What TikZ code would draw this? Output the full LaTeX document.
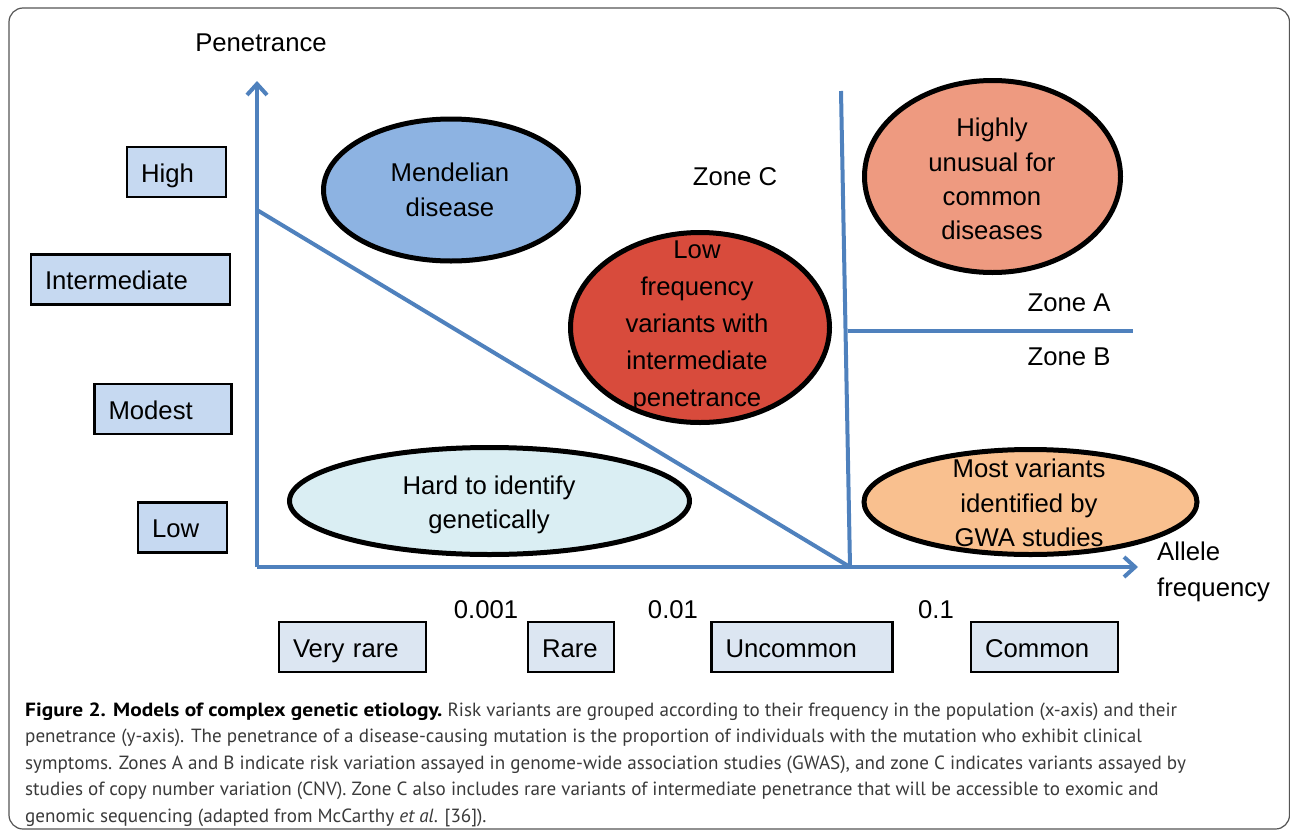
\documentclass[tikz,border=0pt]{standalone}
\usepackage{fontspec}
\setmainfont{Liberation Sans}
\newfontfamily\capfont{PT Sans}
\usetikzlibrary{shapes.geometric,arrows.meta}
\definecolor{axisblue}{HTML}{4F81BD}
\definecolor{yboxfill}{HTML}{C6D9F1}
\definecolor{xboxfill}{HTML}{DCE6F2}
\definecolor{mendfill}{HTML}{8DB3E2}
\definecolor{redfill}{HTML}{D84B3C}
\definecolor{highfill}{HTML}{EE9A80}
\definecolor{hardfill}{HTML}{DAEEF3}
\definecolor{gwafill}{HTML}{F9C08F}
\definecolor{captext}{HTML}{3A3A3A}
\definecolor{framegray}{HTML}{555555}
\begin{document}
\begin{tikzpicture}[x=1pt,y=-1pt,
  lbl/.style={font=\fontsize{25.7pt}{35pt}\selectfont, inner sep=0pt, align=center},
  ell/.style={ellipse, draw=black, line width=5pt, inner sep=0pt},
  boxnode/.style={rectangle, draw=black, line width=2.5pt, inner xsep=14pt, inner ysep=0pt,
     minimum height=50pt, align=left, text height=20.4pt, text depth=0pt,
     font=\fontsize{25.7pt}{30pt}\selectfont},
  axisline/.style={draw=axisblue, line width=4pt},
  axisarrow/.style={axisline, -{Straight Barb[length=11pt,width=20pt,line width=4pt]}},
  capline/.style={anchor=base west, inner sep=0pt, font=\capfont\fontsize{19.1pt}{26pt}\selectfont, text=captext}
]
\useasboundingbox (0,0) rectangle (1290,835);
% frame
\draw[framegray, line width=1.2pt, rounded corners=14pt] (9,8) rectangle (1289.5,829);

% ellipses (drawn first, behind lines)
\node[ell, fill=mendfill, minimum width=255pt, minimum height=142pt] (mend) at (451,190) {};
\node[ell, fill=redfill, minimum width=259pt, minimum height=190pt] (lowf) at (700,327.5) {};
\node[ell, fill=highfill, minimum width=256pt, minimum height=192pt] (hiun) at (992.5,176.5) {};
\node[ell, fill=hardfill, minimum width=400pt, minimum height=107pt] (hard) at (489.5,501) {};
\node[ell, fill=gwafill, minimum width=333pt, minimum height=105pt] (gwa) at (1030.5,502) {};

% axes and zone lines
\coordinate (O) at (257,567);
\coordinate (ytop) at (257,81);
\coordinate (xend) at (1138,567);
\coordinate (dstart) at (257,210);
\coordinate (vbot) at (850,567);
\coordinate (vtop) at (841,91);
\coordinate (zA) at (848,331);
\coordinate (zB) at (1133,331);
\draw[axisarrow] (O) -- (ytop);
\draw[axisarrow] (O) -- (xend);
\draw[axisline] (dstart) -- (vbot);
\draw[axisline] (vbot) -- (vtop);
\draw[axisline] (zA) -- (zB);

% ellipse texts
\node[lbl] (mendt) at (450,190) {Mendelian\\disease};
\node[lbl, font=\fontsize{25.7pt}{37pt}\selectfont] (lowft) at (697,326) {Low\\frequency\\variants with\\intermediate\\penetrance};
\node[lbl, font=\fontsize{25.7pt}{34.3pt}\selectfont] (hiunt) at (992,179) {Highly\\unusual for\\common\\diseases};
\node[lbl, font=\fontsize{25.7pt}{34pt}\selectfont] (hardt) at (489,505) {Hard to identify\\genetically};
\node[lbl, font=\fontsize{25.7pt}{34.5pt}\selectfont] (gwat) at (1029,503) {Most variants\\identified by\\GWA studies};

% labels
\node[lbl] (pen) at (261,43) {Penetrance};
\node[lbl] (zc) at (735,177) {Zone C};
\node[lbl] (za) at (1069,303) {Zone A};
\node[lbl] (zb) at (1069,357) {Zone B};
\node[lbl, anchor=west] (al1) at (1157,551) {Allele};
\node[lbl, anchor=west] (al2) at (1157,590) {frequency};
\node[lbl] (t1) at (486,610) {0.001};
\node[lbl] (t2) at (673,610) {0.01};
\node[lbl] (t3) at (936,610) {0.1};

% y boxes
\node[boxnode, fill=yboxfill, text width=71pt] (high) at (176.5,172) {High};
\node[boxnode, fill=yboxfill, text width=171pt] (inter) at (130.5,279.5) {Intermediate};
\node[boxnode, fill=yboxfill, text width=109pt] (modest) at (163,409) {Modest};
\node[boxnode, fill=yboxfill, text width=61pt] (low) at (182.5,527.5) {Low};
% x boxes
\node[boxnode, fill=xboxfill, text width=119pt] (vrare) at (352.5,647) {Very rare};
\node[boxnode, fill=xboxfill, text width=58pt] (rare) at (571,647) {Rare};
\node[boxnode, fill=xboxfill, text width=153pt] (uncom) at (802,647) {Uncommon};
\node[boxnode, fill=xboxfill, text width=119pt] (common) at (1044.5,647) {Common};

% caption
\node[capline] (c1) at (25,716) {\scalebox{1.12}[1]{\textbf{\color{black}Figure 2. Models of complex genetic etiology.}} Risk variants are grouped according to their frequency in the population (x-axis) and their};
\node[capline] (c2) at (25,742.5) {penetrance (y-axis). The penetrance of a disease-causing mutation is the proportion of individuals with the mutation who exhibit clinical};
\node[capline] (c3) at (25,769) {symptoms. Zones A and B indicate risk variation assayed in genome-wide association studies (GWAS), and zone C indicates variants assayed by};
\node[capline] (c4) at (25,795.5) {studies of copy number variation (CNV). Zone C also includes rare variants of intermediate penetrance that will be accessible to exomic and};
\node[capline] (c5) at (25,822) {genomic sequencing (adapted from McCarthy \textit{et al}. [36]).};
\end{tikzpicture}
\end{document}
